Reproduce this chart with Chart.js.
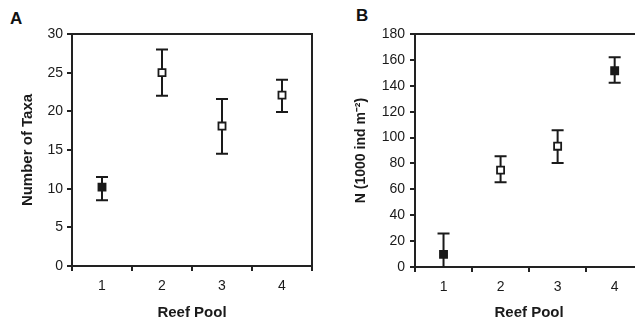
<!DOCTYPE html>
<html>
<head>
<meta charset="utf-8">
<script src="https://cdn.jsdelivr.net/npm/chart.js@4/dist/chart.umd.min.js"></script>
<style>
  html, body { margin: 0; padding: 0; background: #fff; overflow: hidden; }
  body { width: 635px; height: 322px; position: relative; font-family: "Liberation Sans", Arial, sans-serif; }
  .panel { position: absolute; top: 0; }
  .tag { position: absolute; font-weight: bold; font-size: 17px; color: #111; }
</style>
</head>
<body>
<div class="tag" style="left:10px; top:9px;">A</div>
<div class="tag" style="left:356px; top:6px;">B</div>
<div class="panel" style="left:0;"><canvas id="taxaChart" width="320" height="322"></canvas></div>
<div class="panel" style="left:320px;"><canvas id="densityChart" width="330" height="322"></canvas></div>
<script>
var pools = ['1', '2', '3', '4'];

// panel A: number of taxa
var taxaMean = [10.2, 25.0, 18.1, 22.1];
var taxaHigh = [11.5, 28.0, 21.6, 24.1];
var taxaLow = [8.5, 22.0, 14.5, 19.9];
var taxaFilled = [true, false, false, false];
var taxaTicks = [0, 5, 10, 15, 20, 25, 30];

// panel B: density N (1000 ind m-2)
var densMean = [9.8, 74.8, 93.3, 151.6];
var densHigh = [25.8, 85.6, 105.7, 162.0];
var densLow = [0, 65.5, 80.4, 142.3];
var densFilled = [true, false, false, true];
var densTicks = [0, 20, 40, 60, 80, 100, 120, 140, 160, 180];

var ink = '#1a1a1a';

// error bars + plot frame
var errorBars = {
  id: 'errorBars',
  beforeDatasetsDraw: function (chart, args, opts) {
    var ctx = chart.ctx;
    var xs = chart.scales.x, ys = chart.scales.y;
    var a = chart.chartArea;
    ctx.save();
    ctx.strokeStyle = '#222';
    ctx.lineWidth = 2;
    ctx.strokeRect(a.left, a.top, a.right - a.left, a.bottom - a.top);
    ctx.strokeStyle = ink;
    ctx.lineWidth = 2;
    for (var i = 0; i < opts.high.length; i++) {
      var x = xs.getPixelForValue(i);
      var yh = ys.getPixelForValue(opts.high[i]);
      var yl = ys.getPixelForValue(opts.low[i]);
      ctx.beginPath();
      ctx.moveTo(x, yh); ctx.lineTo(x, yl);
      ctx.moveTo(x - 6, yh); ctx.lineTo(x + 6, yh);
      if (opts.low[i] > ys.min) { ctx.moveTo(x - 6, yl); ctx.lineTo(x + 6, yl); }
      ctx.stroke();
    }
    ctx.restore();
  }
};

function makeChart(el, means, high, low, filled, ticks, yTitle, geo) {
  return new Chart(el, {
    type: 'line',
    data: {
      labels: pools,
      datasets: [{
        data: means,
        showLine: false,
        pointStyle: 'rect',
        pointRadius: 5,
        pointHoverRadius: 5,
        pointBorderWidth: 1.8,
        pointBorderColor: ink,
        pointBackgroundColor: filled.map(function (f) { return f ? ink : '#fff'; })
      }]
    },
    options: {
      responsive: false,
      animation: false,
      layout: { padding: { top: geo.top, right: geo.right, left: 0, bottom: 0 } },
      plugins: {
        legend: { display: false },
        tooltip: { enabled: false },
        errorBars: { high: high, low: low }
      },
      scales: {
        x: {
          type: 'category',
          offset: true,
          grid: { offset: true, drawOnChartArea: false, tickLength: 5, color: '#222', lineWidth: 2 },
          border: { display: false },
          ticks: { color: ink, padding: 7, font: { family: 'Liberation Sans', size: 14 } },
          title: { display: true, text: 'Reef Pool', color: ink, padding: { top: 0, bottom: 0 },
                   font: { family: 'Liberation Sans', size: 15, weight: 'bold' } },
          afterFit: function (s) { s.height = geo.xHeight; }
        },
        y: {
          min: ticks[0],
          max: ticks[ticks.length - 1],
          afterBuildTicks: function (s) { s.ticks = ticks.map(function (v) { return { value: v }; }); },
          grid: { drawOnChartArea: false, tickLength: 5, color: '#222', lineWidth: 2 },
          border: { display: false },
          ticks: { color: ink, padding: geo.tickPad, font: { family: 'Liberation Sans', size: 14 } },
          title: { display: true, text: yTitle, color: ink, padding: { top: geo.titlePad, bottom: 0 },
                   font: { family: 'Liberation Sans', size: geo.titleSize, weight: 'bold' } },
          afterFit: function (s) { s.width = geo.yWidth; }
        }
      }
    },
    plugins: [errorBars]
  });
}

makeChart(document.getElementById('taxaChart'), taxaMean, taxaHigh, taxaLow, taxaFilled, taxaTicks,
  'Number of Taxa', { top: 34, right: 8, xHeight: 56, yWidth: 72, tickPad: 4, titlePad: 19, titleSize: 15 });

makeChart(document.getElementById('densityChart'), densMean, densHigh, densLow, densFilled, densTicks,
  'N (1000 ind m\u207B\u00B2)', { top: 34, right: 6, xHeight: 55, yWidth: 95, tickPad: 5, titlePad: 33, titleSize: 14 });
</script>
</body>
</html>
